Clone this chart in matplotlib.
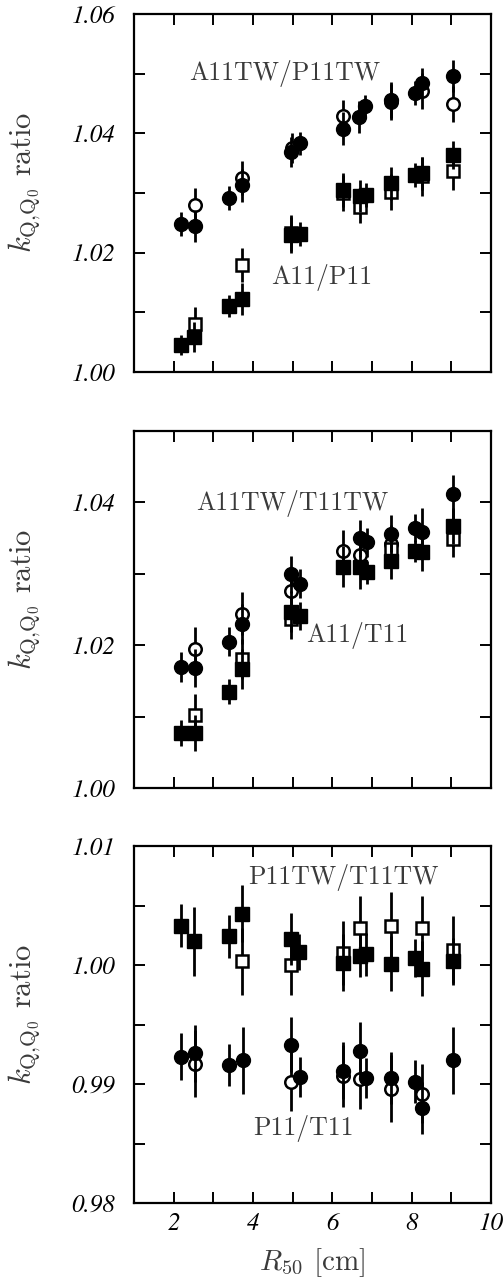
import matplotlib

matplotlib.use("Agg")
import matplotlib.pyplot as plt
import numpy as np

# R50 [cm] and k_Q,Q0 ratios, with standard uncertainties
# panel 1: A11TW/P11TW (circles), A11/P11 (squares)
p1_circ_fill_r = [2.19, 2.54, 3.40, 3.72, 4.95, 5.18, 6.26, 6.68, 6.83, 7.49, 8.08, 8.25, 9.03]
p1_circ_fill_v = [1.0248, 1.0245, 1.0292, 1.0313, 1.0369, 1.0383, 1.0408, 1.0427, 1.0445, 1.0456, 1.0467, 1.0485, 1.0496]
p1_circ_fill_e = [0.0020, 0.0027, 0.0020, 0.0028, 0.0025, 0.0020, 0.0028, 0.0027, 0.0020, 0.0030, 0.0020, 0.0024, 0.0027]
p1_circ_open_r = [2.54, 3.72, 4.98, 6.26, 7.49, 8.25, 9.03]
p1_circ_open_v = [1.0280, 1.0325, 1.0375, 1.0429, 1.0453, 1.0471, 1.0449]
p1_circ_open_e = [0.0028, 0.0028, 0.0025, 0.0027, 0.0030, 0.0030, 0.0030]
p1_sq_fill_r = [2.19, 2.51, 3.40, 3.72, 4.97, 5.18, 6.26, 6.70, 6.85, 7.49, 8.08, 8.25, 9.03]
p1_sq_fill_v = [1.0045, 1.0059, 1.0111, 1.0122, 1.0229, 1.0231, 1.0305, 1.0295, 1.0297, 1.0316, 1.0330, 1.0333, 1.0364]
p1_sq_fill_e = [0.0017, 0.0025, 0.0018, 0.0027, 0.0030, 0.0020, 0.0028, 0.0026, 0.0020, 0.0028, 0.0020, 0.0028, 0.0024]
p1_sq_open_r = [2.54, 3.72, 4.97, 6.26, 6.70, 7.49, 8.25, 9.03]
p1_sq_open_v = [1.0080, 1.0179, 1.0233, 1.0300, 1.0276, 1.0302, 1.0328, 1.0337]
p1_sq_open_e = [0.0029, 0.0028, 0.0030, 0.0030, 0.0026, 0.0030, 0.0033, 0.0032]

# panel 2: A11TW/T11TW (circles), A11/T11 (squares)
p2_circ_fill_r = [2.19, 2.54, 3.40, 3.72, 4.97, 5.18, 6.70, 6.87, 7.49, 8.08, 8.25, 9.03]
p2_circ_fill_v = [1.0169, 1.0168, 1.0205, 1.0230, 1.0299, 1.0286, 1.0350, 1.0344, 1.0356, 1.0364, 1.0359, 1.0412]
p2_circ_fill_e = [0.0021, 0.0027, 0.0020, 0.0028, 0.0026, 0.0020, 0.0026, 0.0020, 0.0026, 0.0020, 0.0033, 0.0026]
p2_circ_open_r = [2.54, 3.72, 4.97, 6.26, 6.70, 7.49, 9.03]
p2_circ_open_v = [1.0195, 1.0244, 1.0276, 1.0332, 1.0327, 1.0342, 1.0363]
p2_circ_open_e = [0.0030, 0.0030, 0.0026, 0.0029, 0.0026, 0.0026, 0.0026]
p2_sq_fill_r = [2.19, 2.54, 3.40, 3.72, 4.97, 5.18, 6.26, 6.70, 6.87, 7.49, 8.08, 8.25, 9.03]
p2_sq_fill_v = [1.0077, 1.0077, 1.0135, 1.0167, 1.0247, 1.0241, 1.0310, 1.0309, 1.0302, 1.0318, 1.0332, 1.0330, 1.0367]
p2_sq_fill_e = [0.0018, 0.0025, 0.0017, 0.0028, 0.0029, 0.0020, 0.0029, 0.0030, 0.0016, 0.0026, 0.0016, 0.0026, 0.0025]
p2_sq_open_r = [2.54, 3.72, 4.97, 7.49, 9.03]
p2_sq_open_v = [1.0102, 1.0181, 1.0237, 1.0335, 1.0349]
p2_sq_open_e = [0.0030, 0.0028, 0.0029, 0.0026, 0.0025]

# panel 3: P11TW/T11TW (squares), P11/T11 (circles)
p3_sq_fill_r = [2.19, 2.51, 3.40, 3.72, 4.97, 5.17, 6.26, 6.70, 6.85, 7.49, 8.08, 8.25, 9.03]
p3_sq_fill_v = [1.0033, 1.0020, 1.0024, 1.0043, 1.0022, 1.0011, 1.0002, 1.0008, 1.0009, 1.0001, 1.0006, 0.9997, 1.0003]
p3_sq_fill_e = [0.0018, 0.0029, 0.0018, 0.0024, 0.0022, 0.0015, 0.0024, 0.0018, 0.0018, 0.0023, 0.0016, 0.0023, 0.0020]
p3_sq_open_r = [3.72, 4.97, 6.26, 6.70, 7.49, 8.25, 9.03]
p3_sq_open_v = [1.0003, 1.0000, 1.0010, 1.0031, 1.0033, 1.0031, 1.0013]
p3_sq_open_e = [0.0028, 0.0025, 0.0027, 0.0027, 0.0028, 0.0027, 0.0028]
p3_circ_fill_r = [2.19, 2.54, 3.40, 3.74, 4.97, 5.18, 6.26, 6.70, 6.85, 7.49, 8.08, 8.25, 9.03]
p3_circ_fill_v = [0.9923, 0.9926, 0.9916, 0.9920, 0.9933, 0.9906, 0.9911, 0.9928, 0.9905, 0.9905, 0.9902, 0.9880, 0.9920]
p3_circ_fill_e = [0.0020, 0.0024, 0.0018, 0.0028, 0.0023, 0.0017, 0.0024, 0.0024, 0.0017, 0.0022, 0.0018, 0.0022, 0.0028]
p3_circ_open_r = [2.54, 4.97, 6.26, 6.70, 7.49, 8.25]
p3_circ_open_v = [0.9917, 0.9902, 0.9907, 0.9904, 0.9896, 0.9892]
p3_circ_open_e = [0.0028, 0.0025, 0.0026, 0.0025, 0.0028, 0.0025]

x_ticks = [1, 2, 3, 4, 5, 6, 7, 8, 9, 10]
x_labels = ["", "2", "", "4", "", "6", "", "8", "", "10"]

p1_yticks = [1.00, 1.01, 1.02, 1.03, 1.04, 1.05, 1.06]
p1_ylabels = ["1.00", "", "1.02", "", "1.04", "", "1.06"]
p2_yticks = [1.00, 1.01, 1.02, 1.03, 1.04, 1.05]
p2_ylabels = ["1.00", "", "1.02", "", "1.04", ""]
p3_yticks = [0.98, 0.985, 0.99, 0.995, 1.00, 1.005, 1.01]
p3_ylabels = ["0.98", "", "0.99", "", "1.00", "", "1.01"]

plt.rcParams["font.family"] = "serif"
plt.rcParams["font.serif"] = ["cmr10"]
plt.rcParams["mathtext.fontset"] = "cm"
plt.rcParams["axes.formatter.use_mathtext"] = True

TXT = "#3a3a3a"
tickfont = dict(family="STIXGeneral", style="italic", size=18)

fig = plt.figure(figsize=(5.04, 12.85), dpi=100)
ax1 = fig.add_axes([0.2659, 0.7105, 0.7083, 0.2786])
ax2 = fig.add_axes([0.2659, 0.3868, 0.7083, 0.2778])
ax3 = fig.add_axes([0.2659, 0.0638, 0.7083, 0.2778])


def series(ax, r, v, e, marker, filled):
    if filled:
        ax.errorbar(r, v, yerr=e, fmt=marker, ms=10, mfc="k", mec="k",
                    ecolor="k", elinewidth=2, capsize=0, zorder=3)
    else:
        ax.errorbar(r, v, yerr=e, fmt=marker, ms=9, mfc="white", mec="k",
                    mew=1.8, ecolor="k", elinewidth=2, capsize=0, zorder=2)


series(ax1, p1_circ_open_r, p1_circ_open_v, p1_circ_open_e, "o", False)
series(ax1, p1_sq_open_r, p1_sq_open_v, p1_sq_open_e, "s", False)
series(ax1, p1_circ_fill_r, p1_circ_fill_v, p1_circ_fill_e, "o", True)
series(ax1, p1_sq_fill_r, p1_sq_fill_v, p1_sq_fill_e, "s", True)

series(ax2, p2_circ_open_r, p2_circ_open_v, p2_circ_open_e, "o", False)
series(ax2, p2_sq_open_r, p2_sq_open_v, p2_sq_open_e, "s", False)
series(ax2, p2_circ_fill_r, p2_circ_fill_v, p2_circ_fill_e, "o", True)
series(ax2, p2_sq_fill_r, p2_sq_fill_v, p2_sq_fill_e, "s", True)

series(ax3, p3_sq_open_r, p3_sq_open_v, p3_sq_open_e, "s", False)
series(ax3, p3_circ_open_r, p3_circ_open_v, p3_circ_open_e, "o", False)
series(ax3, p3_sq_fill_r, p3_sq_fill_v, p3_sq_fill_e, "s", True)
series(ax3, p3_circ_fill_r, p3_circ_fill_v, p3_circ_fill_e, "o", True)

lab = dict(ha="center", va="center", fontsize=18.5, color=TXT)
ax1.text(4.81, 1.0501, "A11TW/P11TW", **lab)
ax1.text(5.72, 1.0158, "A11/P11", **lab)
ax2.text(5.0, 1.0399, "A11TW/T11TW", **lab)
ax2.text(6.63, 1.0213, "A11/T11", **lab)
ax3.text(6.29, 1.00734, "P11TW/T11TW", **lab)
ax3.text(5.26, 0.98628, "P11/T11", **lab)

for ax, yt, yl, lim in [
    (ax1, p1_yticks, p1_ylabels, (1.00, 1.06)),
    (ax2, p2_yticks, p2_ylabels, (1.00, 1.05)),
    (ax3, p3_yticks, p3_ylabels, (0.98, 1.01)),
]:
    ax.set_xlim(1, 10)
    ax.set_ylim(*lim)
    ax.set_xticks(x_ticks)
    ax.set_yticks(yt)
    ax.set_yticklabels(yl, fontdict=tickfont)
    if ax is ax3:
        ax.set_xticklabels(x_labels, fontdict=tickfont)
    else:
        ax.set_xticklabels([])
    ax.tick_params(direction="in", length=8, width=1.4, top=True, right=True)
    ax.tick_params(axis="y", pad=13.5)
    ax.tick_params(axis="x", pad=7)
    for s in ax.spines.values():
        s.set_linewidth(1.6)
    ax.set_ylabel(r"$k_{\rm Q{,}Q_0}$ ratio", fontsize=22, color=TXT)
    ax.yaxis.set_label_coords(-0.255, 0.528)

ax3.set_xlabel(r"$R_{50}$ [cm]", fontsize=21, color=TXT, labelpad=8)

fig.savefig("out.png", dpi=100)
